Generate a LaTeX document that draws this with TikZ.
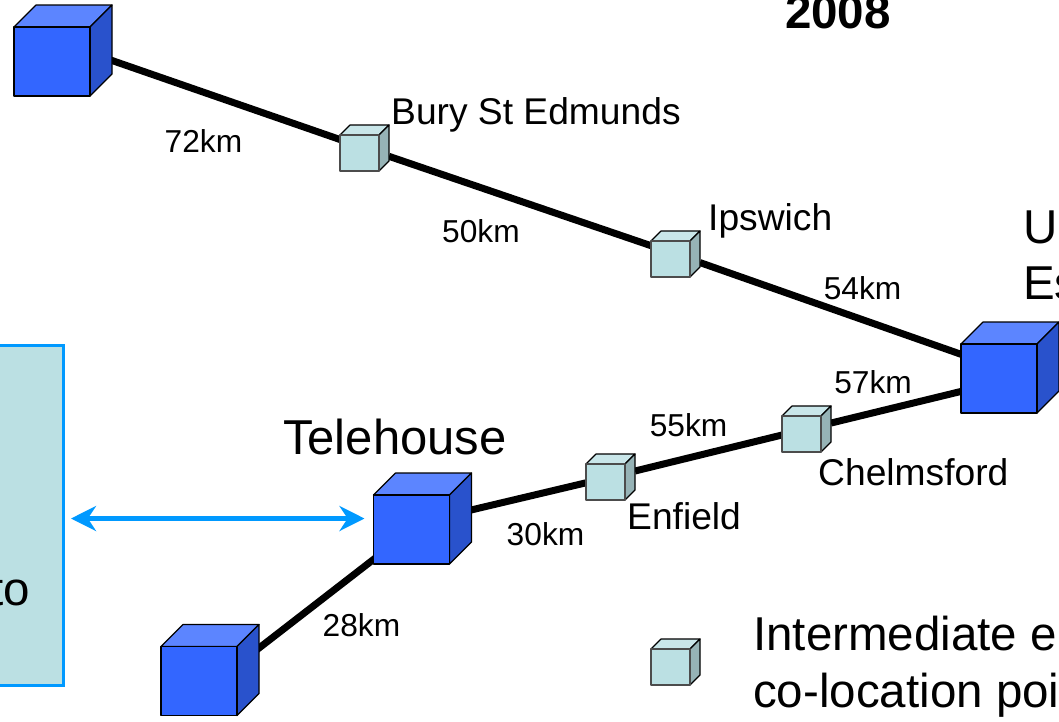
\documentclass[tikz,border=0pt]{standalone}
\usepackage{fontspec}
\setmainfont{Liberation Sans}
\usetikzlibrary{calc,backgrounds,arrows.meta}
\definecolor{cubeblue}{HTML}{3366FF}
\definecolor{cubebluetop}{HTML}{5C85FF}
\definecolor{cubeblueside}{HTML}{2952CC}
\definecolor{cubepale}{HTML}{BBE0E3}
\definecolor{cubepaletop}{HTML}{C9E6E9}
\definecolor{cubepaleside}{HTML}{96B3B6}
\definecolor{arrowblue}{HTML}{0099FF}
\tikzset{
  bigcube/.style={inner sep=0pt,outer sep=0pt,minimum width=98pt,minimum height=91pt},
  smallcube/.style={inner sep=0pt,outer sep=0pt,minimum width=49pt,minimum height=46pt},
  link/.style={line width=7pt},
  km/.style={font=\fontsize{31.7}{36}\selectfont,inner sep=0pt},
  place/.style={font=\fontsize{37.2}{42}\selectfont,inner sep=0pt,anchor=west},
  large/.style={font=\fontsize{47.5}{54}\selectfont,inner sep=0pt,anchor=west},
  peer/.style={line width=5pt,arrowblue,{Stealth[length=25pt,width=25pt]}-{Stealth[length=25pt,width=25pt]},shorten <=6pt,shorten >=9pt},
}
\newcommand{\cubefaces}[6]{%
  \filldraw[fill=#4,draw=black,line width=1.2pt,line join=round]
    ($(#1.north west)+(0,#2)$) -- ($(#1.north west)+(#2,0)$) -- (#1.north east) -- ($(#1.north east)+(-#2,#2)$) -- cycle;
  \filldraw[fill=#5,draw=black,line width=1.2pt,line join=round]
    (#1.north east) -- ($(#1.south east)+(0,-#2)$) -- ($(#1.south east)+(-#2,0)$) -- ($(#1.north east)+(-#2,#2)$) -- cycle;
  \filldraw[fill=#3,draw=#6,line width=1.2pt,line join=round]
    (#1.south west) rectangle ($(#1.north east)+(-#2,#2)$);
}
\newcommand{\bigbox}[2]{\node[bigcube] (#1) at (#2) {};\cubefaces{#1}{22}{cubeblue}{cubebluetop}{cubeblueside}{black}}
\newcommand{\smallbox}[2]{\node[smallcube] (#1) at (#2) {};\cubefaces{#1}{10}{cubepale}{cubepaletop}{cubepaleside}{black!70}}
\begin{document}
\begin{tikzpicture}[x=1pt,y=-1pt]
\useasboundingbox (0,0) rectangle (1059,721);
\node[draw=arrowblue,fill=cubepale,line width=3pt,inner sep=0pt,minimum width=79pt,minimum height=340pt] (hub) at (24,515) {};
\node[large,anchor=east] (hubtext) at (30,590) {to};

\bigbox{north}{63,50.5}
\bigbox{uk}{1010,367.5}
\bigbox{tele}{422.5,518.5}
\bigbox{south}{210,670}
\smallbox{bury}{364.5,148}
\smallbox{ipswich}{675.5,254}
\smallbox{chelmsford}{806.5,429}
\smallbox{enfield}{610.5,477}
\smallbox{legend}{675.5,662}

\begin{scope}[on background layer]
\draw[link] ($(north)+(0,-7)$) -- (bury) -- (ipswich) -- ($(uk)+(0,4)$);
\draw[link] ($(uk)+(0,12)$) -- (chelmsford) -- (enfield) -- ($(tele)+(0,3)$);
\draw[link] ($(tele)+(0,3)$) -- ($(south)+(0,16)$);
\end{scope}
\draw[peer] (hub.east |- tele.west) -- (tele.west);

\node[font=\bfseries\fontsize{47.5}{54}\selectfont,inner sep=0pt] (year) at (838,12) {2008};
\node[place] (lbury) at (391,115) {Bury St Edmunds};
\node[place] (lipswich) at (708,221) {Ipswich};
\node[place] (lchelm) at (818,472) {Chelmsford};
\node[place] (lenfield) at (627,516) {Enfield};
\node[font=\fontsize{49}{54}\selectfont,inner sep=0pt,anchor=west] (ltele) at (283,437) {Telehouse};
\node[large] (luk1) at (1023,227) {U};
\node[large] (luk2) at (1023,283) {Es};
\node[large] (lint1) at (753,634) {Intermediate e};
\node[large] (lint2) at (753,695) {co-location poi};
\node[km] (k72) at (203.5,141) {72km};
\node[km] (k50) at (481,231) {50km};
\node[km] (k54) at (862.5,288) {54km};
\node[km] (k57) at (873,382) {57km};
\node[km] (k55) at (688.5,425) {55km};
\node[km] (k30) at (545.5,534) {30km};
\node[km] (k28) at (361.5,625) {28km};
\end{tikzpicture}
\end{document}
